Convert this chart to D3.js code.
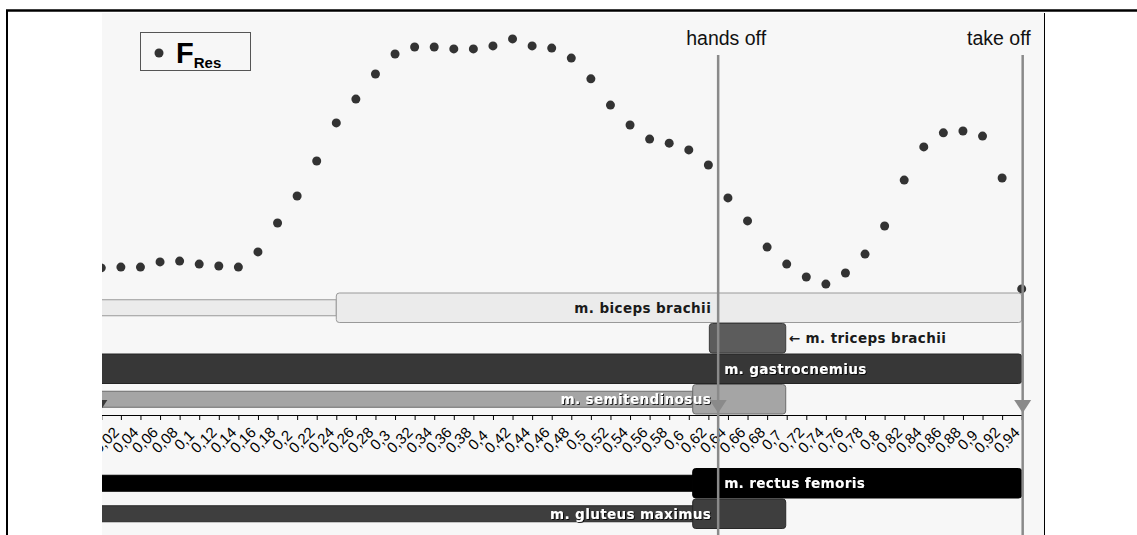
<!DOCTYPE html>
<html>
<head>
<meta charset="utf-8">
<script src="https://cdn.jsdelivr.net/npm/d3@7"></script>
<style>
  body { margin: 0; background: #fff; }
  svg { display: block; }
</style>
</head>
<body>
<div id="chart"></div>
<script>
// time axis (normalised jump time) and resulting force F_Res
const times = [0.02, 0.04, 0.06, 0.08, 0.10, 0.12, 0.14, 0.16, 0.18, 0.20, 0.22, 0.24,
  0.26, 0.28, 0.30, 0.32, 0.34, 0.36, 0.38, 0.40, 0.42, 0.44, 0.46, 0.48,
  0.50, 0.52, 0.54, 0.56, 0.58, 0.60, 0.62, 0.64, 0.66, 0.68, 0.70, 0.72,
  0.74, 0.76, 0.78, 0.80, 0.82, 0.84, 0.86, 0.88, 0.90, 0.92, 0.94, 0.96];
const fRes = [11.9, 12.2, 12.2, 14.1, 14.4, 13.3, 12.6, 12.2, 17.8, 28.5, 38.5, 51.5,
  65.6, 74.4, 83.7, 91.1, 93.7, 93.7, 93.0, 93.0, 94.1, 96.7, 94.1, 93.3,
  89.6, 81.9, 72.2, 64.8, 59.6, 58.1, 55.6, 50.0, 37.8, 29.3, 19.6, 13.3,
  8.5, 5.9, 10.0, 17.0, 27.4, 44.4, 56.7, 61.9, 62.6, 60.7, 45.2, 4.1];
const tickLabels = ["0,02", "0,04", "0,06", "0,08", "0,1", "0,12", "0,14", "0,16", "0,18", "0,2",
  "0,22", "0,24", "0,26", "0,28", "0,3", "0,32", "0,34", "0,36", "0,38", "0,4",
  "0,42", "0,44", "0,46", "0,48", "0,5", "0,52", "0,54", "0,56", "0,58", "0,6",
  "0,62", "0,64", "0,66", "0,68", "0,7", "0,72", "0,74", "0,76", "0,78", "0,8",
  "0,82", "0,84", "0,86", "0,88", "0,9", "0,92", "0,94"];

// muscle activity: low phase from lowStart, high phase highStart..highEnd
const muscles = ["m. biceps brachii", "m. triceps brachii", "m. gastrocnemius",
  "m. semitendinosus", "m. rectus femoris", "m. gluteus maximus"];
const lowStart = [0, null, null, 0, 0, 0];
const highStart = [0.26, 0.641, 0, 0.624, 0.624, 0.624];
const highEnd = [0.96, 0.719, 0.96, 0.719, 0.96, 0.719];

// events
const events = ["", "hands off", "take off"];
const eventTimes = [0.0175, 0.65, 0.961];

// ---- drawing ----
const W = 1137, H = 535;
const plotL = 102, plotR = 1044, plotT = 13;
const axisY = 415;

const muscleFill = ["#ebebeb", "#5c5c5c", "#373737", "#a5a5a5", "#000000", "#3e3e3e"];
const muscleText = ["#1a1a1a", "#1a1a1a", "#fff", "#fff", "#fff", "#fff"];

const svg = d3.select("#chart").append("svg")
  .attr("width", W).attr("height", H)
  .style("font-family", "'Liberation Sans', Arial, sans-serif");

const defs = svg.append("defs");
defs.append("clipPath").attr("id", "plotclip")
  .append("rect").attr("x", plotL).attr("y", plotT)
  .attr("width", plotR - plotL).attr("height", H - plotT);
defs.append("filter").attr("id", "shadow")
  .attr("x", "-5%").attr("y", "-20%").attr("width", "110%").attr("height", "140%")
  .append("feDropShadow")
  .attr("dx", 1).attr("dy", 1).attr("stdDeviation", 0.4)
  .attr("flood-color", "#000").attr("flood-opacity", 0.8);

// frame
svg.append("rect").attr("x", plotL).attr("y", plotT)
  .attr("width", plotR - plotL).attr("height", H - plotT).attr("fill", "#f7f7f7");
svg.append("line").attr("x1", 6).attr("x2", W).attr("y1", 10.5).attr("y2", 10.5)
  .attr("stroke", "#000").attr("stroke-width", 2.5);
svg.append("line").attr("x1", 7).attr("x2", 7).attr("y1", 10).attr("y2", H)
  .attr("stroke", "#000").attr("stroke-width", 2);
svg.append("line").attr("x1", plotR + 0.5).attr("x2", plotR + 0.5).attr("y1", plotT).attr("y2", H)
  .attr("stroke", "#000").attr("stroke-width", 1);

const x = d3.scaleLinear().domain([0.02, 0.96]).range([101.3, 1021.7]);
const y = d3.scaleLinear().domain([0, 100]).range([300, 30]);

const upper = d3.scaleBand().domain(muscles.slice(0, 4)).range([292.5, 414.5]);
const lower = d3.scaleBand().domain(muscles.slice(4)).range([468, 529]);
const rowTop = m => upper.domain().includes(m) ? upper(m) : lower(m);
const bw = upper.bandwidth();

const g = svg.append("g").attr("clip-path", "url(#plotclip)");

// force dots
g.selectAll("circle.f")
  .data(times)
  .join("circle")
  .attr("class", "f")
  .attr("cx", d => x(d))
  .attr("cy", (d, i) => y(fRes[i]))
  .attr("r", 4.5)
  .attr("fill", "#333");

// muscle bars
const rows = muscles.map((m, i) => ({ name: m, i }));
const bars = g.selectAll("g.muscle").data(rows).join("g").attr("class", "muscle");

bars.filter(d => lowStart[d.i] !== null).append("rect")
  .attr("x", d => x(lowStart[d.i]))
  .attr("y", d => rowTop(d.name) + bw / 2 - 8)
  .attr("width", d => x(highStart[d.i]) - x(lowStart[d.i]))
  .attr("height", 16)
  .attr("fill", d => muscleFill[d.i])
  .attr("stroke", d => d3.color(muscleFill[d.i]).darker(1.2))
  .attr("stroke-width", 1);

bars.append("rect")
  .attr("x", d => x(highStart[d.i]))
  .attr("y", d => rowTop(d.name) + 0.5)
  .attr("width", d => x(highEnd[d.i]) - x(highStart[d.i]))
  .attr("height", bw - 1)
  .attr("rx", 3)
  .attr("fill", d => muscleFill[d.i])
  .attr("stroke", d => d3.color(muscleFill[d.i]).darker(1.2))
  .attr("stroke-width", 1);

// axis
const axis = d3.axisBottom(x)
  .tickValues(times)
  .tickSize(5)
  .tickSizeOuter(0)
  .tickFormat((d, i) => tickLabels[i] || "");
const ax = g.append("g").attr("transform", `translate(0,${axisY})`).call(axis);
ax.select(".domain").attr("stroke", "#000");
ax.selectAll(".tick line").attr("stroke", "#000");
ax.selectAll(".tick text")
  .attr("y", 0).attr("dy", "0.35em")
  .attr("transform", "translate(4,25) rotate(-45)")
  .attr("text-anchor", "middle")
  .attr("fill", "#000")
  .style("font-size", "15px")
  .style("font-family", "'Liberation Sans', Arial, sans-serif");

// muscle labels
const tHands = eventTimes[1];
const labelMode = ["before", "afterBar", "after", "before", "after", "before"];
svg.selectAll("text.mlabel")
  .data(rows)
  .join("text")
  .attr("class", "mlabel")
  .attr("x", d => labelMode[d.i] === "before" ? x(tHands) - 7
    : labelMode[d.i] === "after" ? x(tHands) + 6 : x(highEnd[d.i]) + 3)
  .attr("y", d => rowTop(d.name) + bw / 2)
  .attr("dy", "0.36em")
  .attr("text-anchor", d => labelMode[d.i] === "before" ? "end" : "start")
  .attr("fill", d => muscleText[d.i])
  .attr("filter", d => muscleText[d.i] === "#fff" ? "url(#shadow)" : null)
  .style("font-family", "'DejaVu Sans', Verdana, sans-serif")
  .style("font-weight", "bold")
  .style("font-size", "13.5px")
  .style("letter-spacing", "0.4px")
  .text(d => labelMode[d.i] === "afterBar" ? "\u2190 " + d.name : d.name);

// event lines, arrowheads, labels
const ev = svg.append("g").attr("clip-path", "url(#plotclip)")
  .selectAll("g.ev")
  .data(events.map((e, i) => ({ label: e, t: eventTimes[i] })))
  .join("g").attr("class", "ev");

ev.filter(d => d.label !== "").append("line")
  .attr("x1", d => x(d.t)).attr("x2", d => x(d.t))
  .attr("y1", 55).attr("y2", H)
  .attr("stroke", "#8a8a8a").attr("stroke-width", 2.5);

ev.append("path")
  .attr("d", d => `M${x(d.t) - 8.5},400 L${x(d.t) + 8.5},400 L${x(d.t)},413 Z`)
  .attr("fill", d => d.label === "" ? "#3a3a3a" : "#8a8a8a");

ev.filter(d => d.label !== "").append("text")
  .attr("x", d => Math.min(x(d.t) + 8, 1034))
  .attr("y", 45)
  .attr("text-anchor", d => x(d.t) + 8 + 33 > 1034 ? "end" : "middle")
  .attr("fill", "#111")
  .style("font-size", "19.5px")
  .text(d => d.label);

// legend
const leg = svg.append("g");
leg.append("rect").attr("x", 140.5).attr("y", 32.5).attr("width", 110).attr("height", 38)
  .attr("fill", "#f7f7f7").attr("stroke", "#555").attr("stroke-width", 1);
leg.append("circle").attr("cx", 159).attr("cy", 53).attr("r", 4.5).attr("fill", "#333");
const lt = leg.append("text").attr("x", 176).attr("y", 63)
  .attr("fill", "#000").style("font-weight", "bold");
lt.append("tspan").style("font-size", "29px").text("F");
lt.append("tspan").attr("dy", 5).style("font-size", "15px").text("Res");
</script>
</body>
</html>
